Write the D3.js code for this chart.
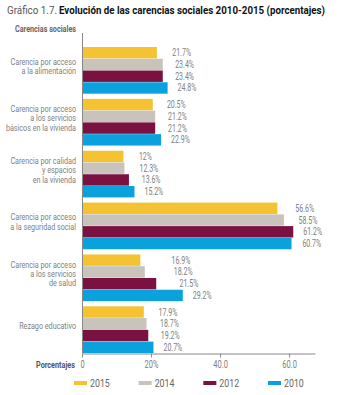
<!DOCTYPE html>
<html>
<head>
<meta charset="utf-8">
<script src="https://cdn.jsdelivr.net/npm/d3@7"></script>
<style>
  body { margin: 0; background: #fff; }
  svg { display: block; }
  text { font-family: Roboto, 'Liberation Sans', sans-serif; }
</style>
</head>
<body>
<script>
const width = 350;
const height = 395;

// data
const categories = [
  ['Carencia por acceso', 'a la alimentación'],
  ['Carencia por acceso', 'a los servicios', 'básicos en la vivienda'],
  ['Carencia por calidad', 'y espacios', 'en la vivienda'],
  ['Carencia por acceso', 'a la seguridad social'],
  ['Carencia por acceso', 'a los servicios', 'de salud'],
  ['Rezago educativo']
];
const years = ['2015', '2014', '2012', '2010'];
const v2015 = [21.7, 20.5, 12.0, 56.6, 16.9, 17.9];
const v2014 = [23.4, 21.2, 12.3, 58.5, 18.2, 18.7];
const v2012 = [23.4, 21.2, 13.6, 61.2, 21.5, 19.2];
const v2010 = [24.8, 22.9, 15.2, 60.7, 29.2, 20.7];
const valueLabels = [
  ['21.7%', '23.4%', '23.4%', '24.8%'],
  ['20.5%', '21.2%', '21.2%', '22.9%'],
  ['12%', '12.3%', '13.6%', '15.2%'],
  ['56.6%', '58.5%', '61.2%', '60.7%'],
  ['16.9%', '18.2%', '21.5%', '29.2%'],
  ['17.9%', '18.7%', '19.2%', '20.7%']
];
const tickValues = [0, 20, 40, 60];
const tickLabels = ['0', '20%', '40.0', '60.0'];

const colors = d3.scaleOrdinal()
  .domain(years)
  .range(['#f5c232', '#c9c4bb', '#7a1141', '#0ba1dd']);

const series = [v2015, v2014, v2012, v2010];
const rows = categories.map(function(c, i){
  return {
    idx: i,
    lines: c,
    values: series.map(function(s, j){ return {year: years[j], v: s[i], label: valueLabels[i][j]}; })
  };
});

const svg = d3.select('body')
  .append('svg')
  .attr('width', width)
  .attr('height', height);

// squeeze text horizontally (the original uses a condensed face)
function squeeze(sel, k){
  sel.each(function(){
    const w = this.getComputedTextLength();
    this.setAttribute('textLength', w * k);
    this.setAttribute('lengthAdjust', 'spacingAndGlyphs');
  });
}
function fitTo(sel, w){
  sel.attr('textLength', w).attr('lengthAdjust', 'spacingAndGlyphs');
}

const x0 = 82;
const xScale = d3.scaleLinear()
  .domain([0, 67.5])
  .range([x0, 315]);
const yScale = d3.scaleBand()
  .domain(d3.range(categories.length))
  .range([47, 353])
  .paddingInner(0.1)
  .paddingOuter(0);
const yInner = d3.scaleBand()
  .domain(years)
  .range([0, yScale.bandwidth()])
  .paddingInner(0.03);

// title
svg.append('text')
  .attr('x', 7).attr('y', 14)
  .attr('font-size', 10.5)
  .attr('fill', '#555')
  .text('Gráfico 1.7.')
  .call(fitTo, 50);
svg.append('text')
  .attr('x', 59).attr('y', 14)
  .attr('font-size', 10.5)
  .attr('font-weight', 'bold')
  .attr('fill', '#111')
  .text('Evolución de las carencias sociales 2010-2015 (porcentajes)')
  .call(fitTo, 266);

svg.append('text')
  .attr('x', 15).attr('y', 32)
  .attr('font-size', 8.5)
  .attr('font-weight', 'bold')
  .attr('fill', '#666')
  .text('Carencias sociales')
  .call(fitTo, 61);

// bars
const groups = svg.selectAll('g.group')
  .data(rows)
  .enter()
  .append('g')
  .attr('class', 'group')
  .attr('transform', function(d){ return 'translate(0,' + yScale(d.idx) + ')'; });

groups.selectAll('rect')
  .data(function(d){ return d.values; })
  .enter()
  .append('rect')
  .attr('x', x0)
  .attr('y', function(d){ return yInner(d.year); })
  .attr('width', function(d){ return xScale(d.v) - x0; })
  .attr('height', yInner.bandwidth())
  .attr('fill', function(d){ return colors(d.year); });

groups.each(function(d){
  const gMax = d3.max(d.values, function(e){ return xScale(e.v); });
  d3.select(this).selectAll('text.val')
    .data(d.values)
    .enter()
    .append('text')
    .attr('class', 'val')
    .attr('x', function(e){ return (xScale(e.v) + gMax) / 2 + 10; })
    .attr('y', function(e){ return yInner(e.year) + yInner.bandwidth() / 2; })
    .attr('dy', '0.35em')
    .attr('font-size', 10)
    .attr('fill', '#808080')
    .text(function(e){ return e.label; })
    .call(squeeze, 0.7);
});

// category labels, one text per line
groups.each(function(d){
  const n = d.lines.length;
  const lh = 9.3;
  const cy = yScale.bandwidth() / 2 - 4;
  d3.select(this).selectAll('text.cat')
    .data(d.lines)
    .enter()
    .append('text')
    .attr('class', 'cat')
    .attr('text-anchor', 'end')
    .attr('x', 76)
    .attr('y', function(l, i){ return cy + (i - (n - 1) / 2) * lh; })
    .attr('dy', '0.35em')
    .attr('font-size', 9)
    .attr('fill', '#808080')
    .text(function(l){ return l; })
    .call(squeeze, 0.8);
});

// axes
const axis_g = svg.append('g').attr('class', 'axis');
axis_g.append('line')
  .attr('x1', x0 + 0.5).attr('x2', x0 + 0.5)
  .attr('y1', 33).attr('y2', 353)
  .attr('stroke', '#888');

const xAxis = d3.axisBottom(xScale)
  .tickValues(tickValues)
  .tickFormat(function(d, i){ return tickLabels[i]; })
  .tickSize(4)
  .tickSizeOuter(0);
const xg = axis_g.append('g')
  .attr('transform', 'translate(0,353.5)')
  .call(xAxis);
xg.select('.domain').attr('stroke', '#888');
xg.selectAll('.tick line').attr('stroke', '#888');
xg.selectAll('.tick text')
  .attr('font-size', 10)
  .attr('fill', '#808080')
  .attr('font-family', null)
  .attr('y', 7)
  .call(squeeze, 0.75);

svg.append('text')
  .attr('x', 75).attr('y', 368)
  .attr('text-anchor', 'end')
  .attr('font-size', 8.5)
  .attr('font-weight', 'bold')
  .attr('fill', '#555')
  .text('Porcentajes')
  .call(fitTo, 39);

// legend
const legendX = d3.scalePoint()
  .domain(years)
  .range([74, 268]);
const leg = svg.selectAll('g.legend')
  .data(years)
  .enter()
  .append('g')
  .attr('class', 'legend')
  .attr('transform', function(d){ return 'translate(' + legendX(d) + ',383)'; });
leg.append('rect')
  .attr('x', 0).attr('y', -2)
  .attr('width', 13).attr('height', 4)
  .attr('fill', function(d){ return colors(d); });
leg.append('text')
  .attr('x', 16)
  .attr('dy', '0.35em')
  .attr('font-size', 11)
  .attr('fill', '#666')
  .text(function(d){ return d; })
  .call(squeeze, 0.8);
</script>
</body>
</html>
